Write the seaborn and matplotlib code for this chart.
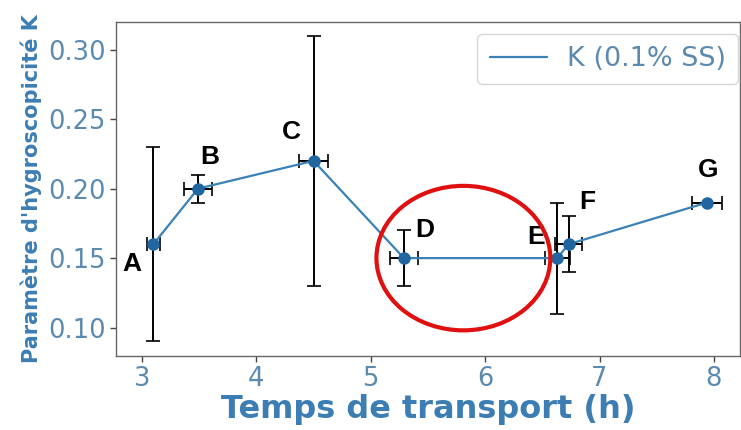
import matplotlib
matplotlib.use("Agg")
import matplotlib.pyplot as plt
from matplotlib.patches import Ellipse
import seaborn as sns
import pandas as pd

# Hygroscopicity parameter K against transport time
labels = ["A", "B", "C", "D", "E", "F", "G"]
temps = [3.1, 3.49, 4.5, 5.29, 6.63, 6.73, 7.94]
kappa = [0.16, 0.20, 0.22, 0.15, 0.15, 0.16, 0.19]
kappa_err = [0.07, 0.01, 0.09, 0.02, 0.04, 0.02, 0.0]
temps_err = [0.06, 0.12, 0.13, 0.12, 0.11, 0.12, 0.13]
series_name = "K (0.1% SS)"

df = pd.DataFrame({"t": temps, "k": kappa, "name": series_name})

sns.set_style("white")
plt.rcParams["font.family"] = ["DejaVu Sans"]

fig = plt.figure(figsize=(7.41, 4.30), dpi=100)
ax = fig.add_axes([0.1565, 0.172, 0.842, 0.777])

line_col = "#3a82b5"
text_col = "#5a8ab0"
label_col = "#3c7db3"

ax.errorbar(temps, kappa, yerr=kappa_err, xerr=temps_err, fmt="none",
            ecolor="black", elinewidth=1.4, capsize=5, capthick=1.2, zorder=2)
sns.lineplot(data=df, x="t", y="k", hue="name", palette=[line_col], sort=False,
             linewidth=1.6, ax=ax, zorder=3)
ax.plot(temps, kappa, "o", color="#2166a0", markersize=8, zorder=4)

# point letters
offsets = [(-22, -20), (12, 32), (-22, 29), (21, 28), (-21, 21), (19, 42), (1, 33)]
for lab, x, y, off in zip(labels, temps, kappa, offsets):
    ax.annotate(lab, (x, y), xytext=off, textcoords="offset pixels",
                ha="center", va="center", fontsize=19, fontweight="bold",
                family="Liberation Sans", color="black", zorder=5)

# highlight of the plateau D-E
ax.add_patch(Ellipse((5.81, 0.15), 1.52, 0.104, fill=False, edgecolor="#e01010",
                     linewidth=3, zorder=6))

ax.set_xlim(2.773, 8.227)
ax.set_ylim(0.0795, 0.320)
ax.set_xticks([3, 4, 5, 6, 7, 8])
ax.set_yticks([0.10, 0.15, 0.20, 0.25, 0.30])
ax.set_yticklabels(["0.10", "0.15", "0.20", "0.25", "0.30"])
ax.tick_params(axis="both", labelsize=18.5, labelcolor=text_col, direction="out",
               length=4, width=1, color="#444444", bottom=True, left=True)

ax.set_xlabel("Temps de transport (h)", fontsize=23, fontweight="bold",
              color=label_col, labelpad=1)
ax.set_ylabel("Paramètre d'hygroscopicité K", fontsize=15, fontweight="bold",
              color=label_col, labelpad=4)

for sp in ax.spines.values():
    sp.set_color("#666666")
    sp.set_linewidth(1)

leg = ax.legend(loc="upper right", bbox_to_anchor=(738 / 741, 1 - 34 / 430),
                bbox_transform=fig.transFigure, borderaxespad=0,
                fontsize=19.5, frameon=True, handlelength=2.1, handletextpad=0.75,
                borderpad=0.45)
for t in leg.get_texts():
    t.set_color(text_col)
leg.get_frame().set_edgecolor("#cccccc")

fig.savefig("out.png", dpi=100)
